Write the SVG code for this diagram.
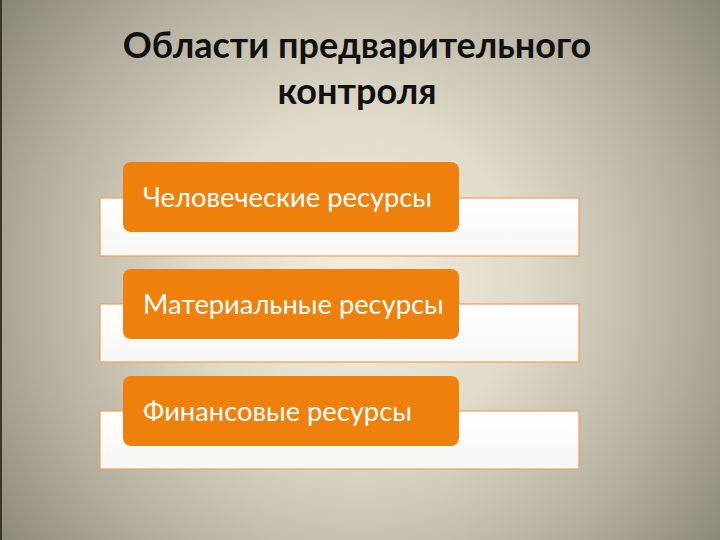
<svg xmlns="http://www.w3.org/2000/svg" width="720" height="540" viewBox="0 0 720 540">
  <defs>
    <radialGradient id="bg" cx="360" cy="280" r="470" gradientUnits="userSpaceOnUse">
      <stop offset="0" stop-color="#f3eee0"/>
      <stop offset="0.35" stop-color="#e0dac8"/>
      <stop offset="0.7" stop-color="#b3ae9e"/>
      <stop offset="1" stop-color="#858171"/>
    </radialGradient>
    <linearGradient id="bar" x1="0" y1="0" x2="0" y2="1">
      <stop offset="0" stop-color="#ffffff"/>
      <stop offset="1" stop-color="#f6f6f4"/>
    </linearGradient>
  </defs>
  <style>
    .title { font-family: Lato, "Liberation Sans", sans-serif; font-weight: bold; font-size: 36px; fill: #111111; text-anchor: middle; }
    .bar { fill: url(#bar); stroke: #eea058; stroke-width: 1.2; }
    .box { fill: #f0800c; }
    .label { font-family: Lato, "Liberation Sans", sans-serif; font-size: 27.3px; fill: #ffffff; }
  </style>
  <rect x="0" y="0" width="720" height="540" fill="url(#bg)"/>
  <line x1="1" y1="0" x2="1" y2="540" stroke="#3a3528" stroke-width="2"/>
  <g id="title">
    <text class="title" x="357" y="58">Области предварительного</text>
    <text class="title" x="357" y="104">контроля</text>
  </g>
  <g id="node1">
    <rect class="bar" x="100" y="198" width="479" height="58"/>
    <rect class="box" x="123" y="162" width="336" height="70" rx="8"/>
    <text class="label" x="143" y="207">Человеческие ресурсы</text>
  </g>
  <g id="node2">
    <rect class="bar" x="100" y="304" width="479" height="58"/>
    <rect class="box" x="123" y="269" width="336" height="70" rx="8"/>
    <text class="label" x="143" y="314">Материальные ресурсы</text>
  </g>
  <g id="node3">
    <rect class="bar" x="100" y="411" width="479" height="58"/>
    <rect class="box" x="123" y="376" width="336" height="70" rx="8"/>
    <text class="label" x="143" y="421">Финансовые ресурсы</text>
  </g>
  <g id="connectors"></g>
</svg>
